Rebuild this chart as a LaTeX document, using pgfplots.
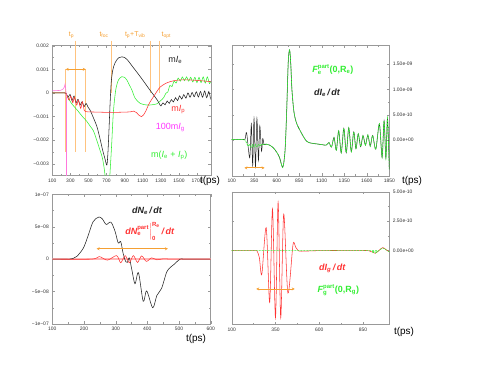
\documentclass[border=0pt]{standalone}
\usepackage{fontspec}
\setmainfont{Liberation Sans}
\usepackage{amsmath}
\usepackage{pgfplots}
\pgfplotsset{compat=1.18}
\usetikzlibrary{arrows.meta}

\definecolor{cblack}{HTML}{222222}
\definecolor{cred}{HTML}{FF3333}
\definecolor{cgreen}{HTML}{33EE33}
\definecolor{cpink}{HTML}{FF77DD}
\definecolor{cmag}{HTML}{FF33FF}
\definecolor{corange}{HTML}{F5A033}
\definecolor{cpeach}{HTML}{FFC37F}
\definecolor{cframe}{HTML}{999999}

\newcommand{\lab}{\fontsize{9}{10}\selectfont}
\newcommand{\sub}[1]{\textsubscript{#1}}

\pgfplotsset{
  panel/.style={
    scale only axis,
    anchor=south west,
    axis line style={cframe, line width=0.4pt},
    tick style={cframe, line width=0.3pt},
    major tick length=2.5bp, minor tick length=1.5bp,
    minor tick num=1,
    tick align=inside,
    scaled x ticks=false, scaled y ticks=false,
    ticklabel style={font=\fontsize{5}{6}\selectfont, text=black!80},
    /pgf/number format/assume math mode=true,
    /pgf/number format/1000 sep={},
    clip mode=individual,
    every axis plot/.append style={line width=0.55pt},
  },
}
\tikzset{
  arr/.style={corange, line width=0.8pt,
    {Stealth[length=3bp,width=3bp]}-{Stealth[length=3bp,width=3bp]}},
  mark line/.style={cpeach, line width=0.9pt},
}

% common part of dI_e/dt and F_e^part after t = 470 ps (units of 1e-10)
\pgfplotstableread{
t v
480 -0.8
520 -1.0
560 -1.5
600 -2.4
630 -3.4
652 -4.8
666 -5.4
680 -4.3
695 -1.3
711 6.0
728 15.5
743 17.8
756 15.0
769 9.9
791 5.6
821 3.3
877 1.3
930 -0.2
980 -0.6
1040 -0.75
1100 -0.9
1150 -1.0
1180 -0.5
1208 -1.4
1236 0.5
1262 -2.0
1288 1.8
1316 -2.5
1345 2.3
1372 -2.5
1400 2.4
1428 -2.3
1455 1.6
1480 -1.7
1505 1.2
1532 -1.3
1558 0.9
1585 -1.0
1612 1.0
1638 -1.2
1665 0.9
1700 -1.8
1740 3.2
1770 -3.4
1792 3.8
1812 -3.5
1830 4.3
1850 -5.8
}\tailE

\begin{document}
\begin{tikzpicture}
\path[use as bounding box] (0,0) rectangle (479bp,370bp);

% ---------------- top left: currents
\begin{axis}[panel, at={(52.3bp,194.3bp)}, width=158.4bp, height=130bp,
  xmin=100, xmax=1850, ymin=-0.0035, ymax=0.002,
  xtick={100,300,500,700,900,1100,1300,1500,1700},
  ytick={-0.003,-0.002,-0.001,0,0.001,0.002},
  yticklabels={−0.003,−0.002,−0.001,0,0.001,0.002}]
% time markers (behind the curves)
\draw[mark line] (axis cs:248,0.001) -- (axis cs:248,-0.0025);
\draw[mark line] (axis cs:359,0.00221) -- (axis cs:359,-0.0025);
\draw[mark line] (axis cs:470,0.001) -- (axis cs:470,-0.0025);
\draw[mark line] (axis cs:750,0.00221) -- (axis cs:750,0);
\draw[mark line] (axis cs:1189,0.00221) -- (axis cs:1189,0);
\draw[mark line] (axis cs:1285,0.00221) -- (axis cs:1285,0);
\addplot[cgreen, smooth] coordinates {
  (100,0) (240,0) (260,-0.0001) (277,-0.00022) (315,-0.00046) (370,-0.0007)
  (429,-0.00098) (481,-0.0012) (517,-0.0014) (554,-0.0016) (591,-0.002)
  (625,-0.0024) (650,-0.0027) (670,-0.0031) (690,-0.0037) (712,-0.0042)
  (730,-0.0038) (742,-0.0031) (757,-0.0021) (775,-0.0008) (801,0.00013)
  (831,0.00055) (868,0.00069) (900,0.00066) (924,0.00055) (950,0.00035)
  (979,0.00013) (1015,-0.00022) (1071,-0.00044) (1145,-0.00051) (1200,-0.0005)
  (1256,-0.00046) (1290,-0.00035) (1330,-0.0002) (1353,-0.00002) (1376,0.00004)
  (1399,0.00032) (1422,0.00027) (1445,0.0005) (1468,0.00042) (1491,0.00063)
  (1514,0.0005) (1537,0.00068) (1560,0.00052) (1583,0.00068) (1606,0.0005)
  (1629,0.00066) (1652,0.00047) (1675,0.00066) (1698,0.00044) (1721,0.00066)
  (1744,0.00044) (1767,0.00068) (1790,0.00042) (1813,0.00068) (1836,0.0004)
  (1850,0.00048)
};
\addplot[cblack, smooth] coordinates {
  (100,0) (240,0) (255,-0.00004) (275,-0.00018) (296,-0.00006) (318,-0.00032)
  (340,-0.00013) (362,-0.00041) (384,-0.00027) (407,-0.00051) (429,-0.00037)
  (451,-0.00058) (473,-0.00044) (495,-0.0006) (517,-0.00072) (554,-0.00105)
  (591,-0.0014) (625,-0.0019) (655,-0.0024) (683,-0.0028) (703,-0.00305)
  (715,-0.0025) (727,-0.0015) (739,-0.0004) (752,0.0005) (770,0.001)
  (794,0.00128) (830,0.00148) (868,0.00153) (900,0.0015) (930,0.0014)
  (970,0.0012) (1000,0.00105) (1050,0.0008) (1108,0.0005) (1160,0.00022)
  (1218,-0.00008) (1260,-0.0003) (1292,-0.00052) (1300,-0.00055)
  (1323,-0.00042) (1346,-0.0005) (1369,-0.00034) (1392,-0.00044) (1415,-0.00028)
  (1438,-0.00038) (1461,-0.0002) (1484,-0.00032) (1507,-0.00012) (1530,-0.00026)
  (1553,-0.00007) (1576,-0.00022) (1599,0.0) (1622,-0.00018) (1645,0.00002)
  (1668,-0.00016) (1691,0.00005) (1714,-0.00017) (1737,0.00006) (1760,-0.00018)
  (1783,0.00008) (1806,-0.0002) (1829,0.00006) (1850,-0.00028)
};
\addplot[cred, smooth] coordinates {
  (100,0) (240,0) (259,-0.00008) (285,-0.0003) (304,-0.00013) (326,-0.00041)
  (344,-0.00018) (370,-0.00051) (388,-0.0003) (414,-0.00065) (432,-0.00037)
  (454,-0.00075) (473,-0.00079) (500,-0.0008) (600,-0.00081) (700,-0.00082)
  (800,-0.00082) (900,-0.00081) (960,-0.0008) (1000,-0.00077) (1030,-0.00083)
  (1060,-0.00095) (1085,-0.001) (1108,-0.00093) (1135,-0.00075) (1163,-0.0005)
  (1190,-0.00032) (1218,-0.00016) (1255,0.00006) (1292,0.00025) (1350,0.0004)
  (1403,0.00048) (1460,0.00053) (1514,0.00055) (1625,0.00055) (1735,0.00052)
  (1850,0.00048)
};
\addplot[cpink, line width=0.6pt] coordinates {
  (100,0.00009) (150,0.0001) (190,0.00011) (215,0.00015) (232,0.00024)
  (241,0.00038) (250,0.0001) (257,-0.0002) (258,-0.03)
};
\draw[arr] (axis cs:248,0.001) -- (axis cs:470,0.001);
\node[text=corange, font=\fontsize{7}{8}\selectfont] at (axis cs:313,0.00245) {t\sub{p}};
\node[text=corange, font=\fontsize{7}{8}\selectfont] at (axis cs:672,0.00245) {t\sub{foc}};
\node[text=corange, font=\fontsize{7}{8}\selectfont] at (axis cs:1016,0.00245) {t\sub{p}+T\sub{vib}};
\node[text=corange, font=\fontsize{7}{8}\selectfont] at (axis cs:1359,0.00245) {t\sub{opt}};
\node[text=cblack, font=\lab] at (axis cs:1458,0.00139) {m\textit{I}\sub{e}};
\node[text=cred, font=\lab] at (axis cs:1491,-0.00072) {m\textit{I}\sub{p}};
\node[text=cmag, font=\lab] at (axis cs:1403,-0.00148) {100m\textit{I}\sub{g}};
\node[text=cgreen, font=\lab] at (axis cs:1392,-0.00262) {m(\textit{I}\sub{e} + \textit{I}\sub{p})};
\end{axis}

% ---------------- top right: dI_e/dt
\begin{axis}[panel, at={(231.7bp,194bp)}, width=157.6bp, height=130.3bp,
  xmin=100, xmax=1850, ymin=-7.1, ymax=18.64,
  xtick={100,350,600,850,1100,1350,1600,1850},
  yticklabel pos=right, ytick pos=both,
  ytick={0,5,10,15},
  yticklabels={0.00e+00,5.00e-10,1.00e-09,1.50e-09}]
\addplot[cblack, smooth, line width=0.5pt] coordinates {
  (100,0.1) (230,0.1) (250,0.3) (266,1.4) (300,-3.5) (318,3.1) (333,-5.0)
  (348,4.3) (364,-5.3) (380,4.3) (397,-4.0) (412,2.8) (431,-2.2) (445,0.3)
  (460,-0.9) (480,-0.8)
};
\addplot[cblack, smooth, line width=0.5pt] table[x=t, y=v] {\tailE};
\addplot[cgreen, smooth, line width=0.7pt, dash pattern=on 2pt off 1pt] coordinates {
  (100,0.1) (230,0.1) (250,0) (265,-0.6) (285,-1.2) (300,-0.9) (318,-1.4)
  (333,-0.9) (348,-1.4) (364,-0.9) (380,-1.3) (397,-0.9) (412,-1.2) (431,-0.8)
  (450,-0.9) (480,-0.8)
};
\addplot[cgreen, smooth, line width=0.7pt, dash pattern=on 2pt off 1pt] table[x=t, y=v] {\tailE};
\draw[arr] (axis cs:240,-5.5) -- (axis cs:465,-5.5);
\node[text=cgreen, font=\lab\bfseries] at (axis cs:1224,14.0)
  {$\text{\bfseries\itshape F}^{\text{\bfseries part}}_{\text{\bfseries e}}$(0,R\sub{e})};
\node[text=cblack, font=\lab\bfseries\itshape] at (axis cs:1158,9.3)
  {dI\sub{e}\,/\,dt};
\end{axis}

% ---------------- bottom left: dN_e/dt
\begin{axis}[panel, at={(52.3bp,46bp)}, width=158.4bp, height=129.7bp,
  xmin=100, xmax=600, ymin=-10, ymax=10,
  xtick={100,200,300,400,500,600},
  ytick={-10,-5,0,5,10},
  yticklabels={−1e−07,−5e−08,0,5e−08,1e−07}]
\addplot[cred!35, line width=2pt] coordinates {(100,0) (600,0)};
\addplot[cblack, smooth] coordinates {
  (100,0) (150,0) (165,0.1) (177,0.4) (198,1.7) (214,3.75) (229,5.8) (247,6.5)
  (258,6.2) (270,5.35) (285,5.7) (298,4.3) (308,2.5) (316,2.7) (324,0.8)
  (332,-0.4) (337,-0.5) (343,0.2) (351,-1.6) (361,-3.8) (372,-2.1) (387,-6.5)
  (398,-4.9) (417,-7.5) (430,-5.6) (445,-4.5) (461,-2.0) (472,-1.3) (487,-0.7)
  (503,0) (520,0) (600,0)
};
\addplot[cred, smooth] coordinates {
  (100,0) (225,0) (248,0.4) (274,-0.15) (303,0.55) (316,-0.55) (330,0.55)
  (343,-0.55) (356,0.55) (369,-0.5) (382,0.5) (397,-0.35) (413,0.2) (430,-0.1)
  (450,0.05) (480,0) (600,0)
};
\draw[arr] (axis cs:240,1.6) -- (axis cs:465,1.6);
\node[text=cblack, font=\lab\bfseries\itshape] at (axis cs:399,7.4) {dN\sub{e}\,/\,dt};
\node[text=cred, font=\lab] at (axis cs:408,4.3)
  {$\text{\bfseries\itshape dN}^{\text{\bfseries part}}_{\text{\bfseries e}}\Big|^{\text{\bfseries R}_{\text{\bfseries e}}}_{\text{\bfseries 0}}$\textbf{\textit{\,/\,dt}}};
\end{axis}

% ---------------- bottom right: dI_g/dt
\begin{axis}[panel, at={(231.7bp,45.7bp)}, width=157.6bp, height=132.6bp,
  xmin=100, xmax=1000, ymin=-6.25, ymax=5,
  xtick={100,350,600,850},
  yticklabel pos=right, ytick pos=both,
  ytick={0,2.5,5},
  yticklabels={0.00e+00,2.50e-10,5.00e-10}]
\addplot[cred, smooth] coordinates {
  (100,0) (230,0) (245,-0.05) (258,-0.6) (272,-2.0) (297,1.95) (317,-4.4)
  (333,3.55) (350,-5.7) (365,4.1) (380,-5.7) (397,3.1) (421,-3.6) (450,0.5)
  (465,0.3) (480,0.0) (500,-0.05) (600,0) (800,0.02) (880,0.0) (900,-0.1)
  (920,-0.22) (940,0.0) (962,0.26) (980,0.1) (1000,-0.1)
};
\addplot[cgreen, smooth, line width=0.6pt, dash pattern=on 2pt off 1pt] coordinates {
  (100,0) (880,0) (900,-0.08) (920,-0.2) (940,0) (962,0.22) (980,0.08) (1000,-0.1)
};
\draw[arr] (axis cs:240,-3.25) -- (axis cs:460,-3.25);
\node[text=cred, font=\lab\bfseries\itshape] at (axis cs:674,-1.47) {dI\sub{g}\,/\,dt};
\node[text=cgreen, font=\lab\bfseries] at (axis cs:709,-3.33)
  {$\text{\bfseries\itshape F}^{\text{\bfseries part}}_{\text{\bfseries g}}$(0,R\sub{g})};
\end{axis}

% axis labels
\node[font=\fontsize{10}{11}\selectfont] at (210bp,189bp) {t(ps)};
\node[font=\fontsize{10}{11}\selectfont] at (412bp,189.5bp) {t(ps)};
\node[font=\fontsize{10}{11}\selectfont] at (196bp,31bp) {t(ps)};
\node[font=\fontsize{10}{11}\selectfont] at (404bp,38.5bp) {t(ps)};
\end{tikzpicture}
\end{document}
